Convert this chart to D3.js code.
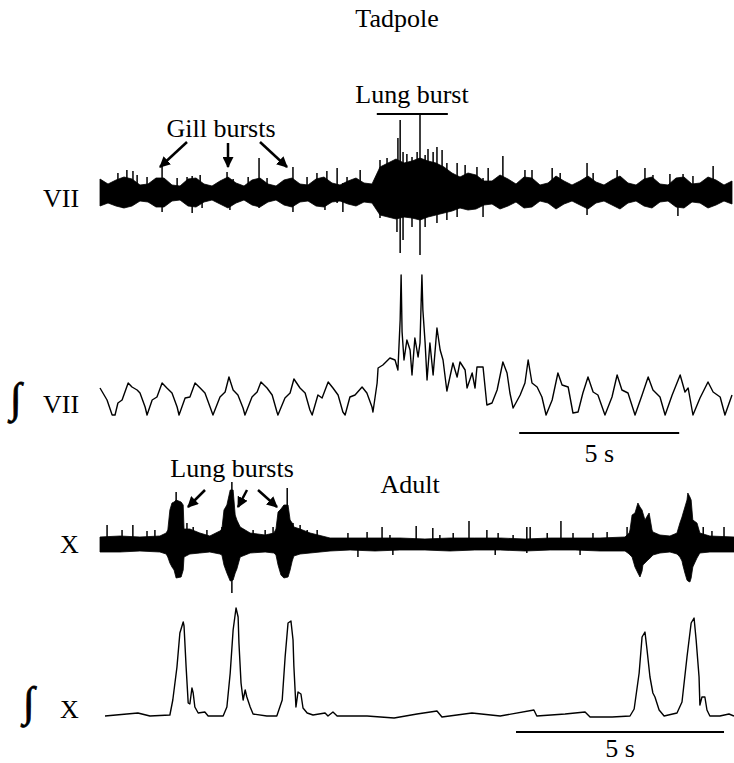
<!DOCTYPE html>
<html>
<head>
<meta charset="utf-8">
<script src="https://cdn.jsdelivr.net/npm/d3@7/dist/d3.min.js"></script>
<style>
  body { margin: 0; background: #fff; }
</style>
</head>
<body>
<div id="chart"></div>
<script>
// ---- Tadpole, raw VII nerve: envelope sampled every 0.25 s (amplitude above / below baseline)
const viiStep = 0.25;
const viiUp = [14,9,13,16,14,8,9,15,15,8, 7,14,15,9,7,12,16,10,7,13,
  15,9,7,13,15,9,8,14,16,10, 8,12,15,10,9,26,30,34,30,32,
  35,32,30,26,20,16,20,18,12,12, 18,14,9,16,15,8,10,17,12,8,
  12,17,11,8,13,17,10,8,14,16, 9,8,15,16,9,10,16,13,8,12];
const viiDown = [13,10,13,15,13,8,9,14,14,8, 7,13,14,9,7,11,15,10,7,12,
  14,9,7,12,14,9,8,13,14,9, 8,11,13,9,10,22,24,26,24,25,
  27,24,22,20,18,15,17,16,12,11, 16,13,9,15,14,8,10,16,11,8,
  12,16,10,8,12,16,10,8,13,15, 9,8,14,15,9,10,15,12,8,11];
// single spikes standing out of the VII band
const viiSpikeT = [0.09,0.56,0.72,0.84,1.03,1.16,1.47,1.94,2.41,2.72,2.88,3.13,3.19,3.97,4.06,4.16,4.63,4.97,5.22,6.03,
  6.47,6.78,7.03,7.09,7.41,7.59,7.72,8.13,8.75,8.97,9.28,9.31,9.38,9.47,9.59,9.75,9.91,10.0,10.16,10.25,
  10.41,10.53,10.69,10.84,11.16,11.41,11.78,11.97,12.13,12.59,13.28,13.5,14.13,14.38,15.22,15.41,16.16,17.03,17.28,17.81,
  18.06,18.22,18.53,19.16];
const viiSpikeUp = [10,20,0,23,22,18,16,27,15,16,17,18,0,21,0,14,16,35,15,26,
  16,20,0,22,25,10,16,23,33,35,30,55,73,41,39,36,41,78,38,44,
  41,46,43,30,30,28,26,15,25,37,23,23,25,20,30,20,23,25,18,19,
  14,19,17,27];
const viiSpikeDown = [0,0,15,12,0,0,0,19,0,0,20,0,15,10,17,0,0,15,0,19,
  0,0,17,0,10,19,0,10,25,20,39,0,60,47,20,34,20,62,34,20,
  20,30,20,27,24,15,15,24,10,12,10,12,10,0,22,0,12,0,0,0,
  23,0,0,10];

// ---- Tadpole, integrated VII
const ivT = [0,0.22,0.38,0.47,0.56,0.69,0.88,1.0,1.16,1.25,1.41,1.47,1.63,1.78,1.94,2.09,2.25,2.41,2.47,2.66,
  2.81,2.97,3.13,3.28,3.44,3.53,3.75,3.91,4.03,4.16,4.31,4.47,4.53,4.75,4.91,5.03,5.22,5.38,5.53,5.56,
  5.78,5.94,6.06,6.25,6.41,6.56,6.63,6.81,6.94,7.13,7.28,7.44,7.59,7.66,7.81,7.97,8.19,8.34,8.5,8.53,
  8.66,8.69,8.84,9.06,9.22,9.31,9.38,9.41,9.44,9.5,9.59,9.69,9.75,9.84,9.94,10.0,10.06,10.09,10.16,10.22,
  10.31,10.41,10.53,10.63,10.72,10.84,11.03,11.16,11.25,11.41,11.47,11.63,11.72,11.78,11.97,12.09,12.25,12.41,12.59,12.72,
  12.81,12.91,13.13,13.28,13.38,13.5,13.66,13.81,13.94,14.13,14.31,14.44,14.63,14.78,14.94,15.09,15.25,15.41,15.56,15.78,
  16.0,16.16,16.31,16.5,16.72,16.94,17.13,17.28,17.5,17.66,17.88,18.13,18.28,18.38,18.53,18.75,19.0,19.16,19.38,19.53,19.75];
const ivV = [30,18,3,3,15,18,35,31,28,25,11,3,18,21,35,30,25,11,3,20,
  21,35,30,25,11,3,21,26,41,28,23,10,3,21,26,36,30,23,6,3,
  20,25,39,30,25,8,3,23,20,36,30,23,6,3,21,23,31,25,11,6,
  35,50,53,60,58,48,98,143,86,58,78,68,43,80,61,75,143,108,75,38,
  75,43,90,68,58,27,55,41,56,48,30,45,30,51,51,13,15,28,56,45,
  25,10,23,35,58,35,31,21,3,18,45,33,31,5,6,25,41,26,23,3,
  21,43,28,25,3,23,41,28,21,3,23,43,26,30,3,20,36,26,21,3,23];

// ---- Adult, raw X nerve envelope
const xT = [0,0.48,0.96,1.44,1.59,1.63,1.68,1.73,1.78,1.83, 1.95,2.0,2.02,2.16,2.40,2.64,2.88,2.93,2.98,3.05,
  3.13,3.20,3.25,3.29,3.37,3.61,3.97,4.18,4.23,4.28, 4.35,4.42,4.52,4.57,4.62,4.66,4.81,5.05,5.53,6.01,
  6.61,7.21,7.81,8.41,9.01,9.62,10.22,10.82,11.42,12.02, 12.62,12.72,12.74,12.79,12.86,12.93,12.98,13.03,13.05,13.10,
  13.17,13.20,13.27,13.29,13.46,13.70,13.87,13.89,13.94,13.99, 14.01,14.06,14.11,14.13,14.18,14.21,14.25,14.35,14.42,14.66,15.24];
const xUp = [8,9,8,9,12,15,35,42,43,45, 43,40,16,16,12,9,14,16,35,40,
  55,55,30,25,18,12,10,12,16,33, 36,40,40,25,22,18,16,12,7,7,
  7,7,6,7,7,7,6,7,7,7, 8,12,15,30,32,42,38,35,32,25,
  30,32,15,13,10,9,12,15,22,28, 31,38,45,52,48,45,25,22,12,9,8];
const xDown = [7,7,6,7,9,12,18,22,25,33, 32,25,12,9,8,7,9,10,20,28,
  36,35,28,24,12,8,7,8,10,20, 30,33,32,25,16,11,9,8,6,5,
  6,5,5,6,5,5,6,5,5,6, 6,9,10,12,22,28,32,26,20,18,
  15,14,11,10,8,7,9,10,12,16, 20,28,35,36,37,33,22,13,8,7,7];
const xSpikeT = [0.17,0.53,0.79,1.13,1.32,1.83,2.09,2.24,2.57,2.93,3.17,3.44,3.68,3.97,4.16,4.50,4.64,4.81,4.98,5.22,
  5.96,6.20,6.42,6.78,6.97,7.04,7.60,8.00,8.17,8.49,8.87,9.30,9.50,9.57,9.93,10.26,10.34,10.75,11.08,11.37,
  11.54,11.85,12.19,12.67,14.50,14.71,15.0];
const xSpikeUp = [20,15,20,14,15,53,22,18,15,18,63,16,15,15,18,57,22,20,15,15,
  12,0,13,18,10,0,19,17,10,12,24,15,0,12,10,18,18,12,24,12,
  0,12,13,18,18,14,18];
const xSpikeDown = [0,0,0,0,0,0,10,0,0,0,48,0,0,0,0,0,0,0,0,0,
  0,12,0,0,0,10,0,0,0,0,0,0,10,0,0,8,0,0,0,0,
  10,0,0,0,0,0,0];

// ---- Adult, integrated X
const ixT = [0.12,0.91,1.20,1.68,1.75,1.85,1.92,2.00,2.02,2.07,2.12,2.16,2.21,2.24,2.28,2.36,2.52,2.60,2.96,3.05,
  3.13,3.20,3.27,3.32,3.34,3.39,3.44,3.49,3.53,3.61,3.68,4.01,4.25,4.38,4.45,4.52,4.59,4.64,4.66,4.71,
  4.76,4.83,4.88,4.98,5.12,5.41,5.48,5.60,5.70,6.42,7.07,7.62,8.10,8.22,8.94,9.62,10.43,10.50,11.18,11.66,
  11.78,12.31,12.74,12.84,12.96,13.03,13.10,13.15,13.22,13.29,13.34,13.44,13.56,13.87,13.99,14.11,14.21,14.28,14.33,14.40,
  14.42,14.47,14.54,14.59,14.66,14.90,15.12,15.24];
const ixV = [0,3,0,1,16,49,83,94,90,49,13,12,28,23,9,3,4,0,0,9,
  43,86,108,99,73,33,16,26,19,9,2,0,0,16,59,93,95,76,50,9,
  24,22,8,3,1,3,0,4,0,0,-2,2,5,-1,3,0,6,0,2,4,
  -1,-1,0,7,43,79,84,66,39,23,19,6,0,3,14,59,93,98,76,39,
  11,19,19,6,0,0,2,0];

const scaleBarSec = 5;
const serif = "'Liberation Serif', 'Times New Roman', Times, 'DejaVu Serif', serif";

const svg = d3.select("#chart").append("svg")
  .attr("width", 734).attr("height", 763)
  .attr("font-family", serif);

// arrowhead
svg.append("defs").append("marker")
  .attr("id", "head")
  .attr("markerUnits", "userSpaceOnUse")
  .attr("viewBox", "0 -5 10 10")
  .attr("refX", 9).attr("refY", 0)
  .attr("markerWidth", 11).attr("markerHeight", 11)
  .attr("orient", "auto")
  .append("path").attr("d", "M0,-5L10,0L0,5Z").attr("fill", "#000");

// scales
const xTad = d3.scaleLinear().domain([0, 19.8]).range([100, 733.6]);
const xAd = d3.scaleLinear().domain([0, 15.24]).range([100, 734]);
const yVII = d3.scaleLinear().domain([-80, 80]).range([273, 113]);
const yIntVII = d3.scaleLinear().domain([0, 150]).range([418, 268]);
const yX = d3.scaleLinear().domain([-70, 70]).range([615, 475]);
const yIntX = d3.scaleLinear().domain([0, 110]).range([716, 606]);

function rawTrace(pts, x, y, spikes) {
  const area = d3.area()
    .x(d => x(d.t)).y0(d => y(-d.dn)).y1(d => y(d.up));
  svg.append("path").datum(pts).attr("d", area).attr("fill", "#000")
    .attr("stroke", "#000").attr("stroke-width", 0.8);
  svg.append("g").selectAll("line").data(spikes).join("line")
    .attr("x1", d => x(d.t)).attr("x2", d => x(d.t))
    .attr("y1", d => y(d.up)).attr("y2", d => y(-d.dn))
    .attr("stroke", "#000").attr("stroke-width", 1.5);
}

function intTrace(pts, x, y) {
  const line = d3.line().x(d => x(d.t)).y(d => y(d.v));
  svg.append("path").datum(pts).attr("d", line)
    .attr("fill", "none").attr("stroke", "#000").attr("stroke-width", 1.4)
    .attr("stroke-linejoin", "round");
}

function scaleBar(x, t0, y, ty) {
  svg.append("line")
    .attr("x1", x(t0)).attr("x2", x(t0 + scaleBarSec))
    .attr("y1", y).attr("y2", y)
    .attr("stroke", "#000").attr("stroke-width", 2);
  svg.append("text").attr("x", x(t0 + scaleBarSec / 2)).attr("y", ty)
    .attr("text-anchor", "middle").attr("font-size", 26).text(scaleBarSec + " s");
}

function label(txt, x, y, anchor) {
  svg.append("text").attr("x", x).attr("y", y)
    .attr("text-anchor", anchor || "middle").attr("font-size", 26).text(txt);
}

function arrow(x1, y1, x2, y2) {
  svg.append("line").attr("x1", x1).attr("y1", y1).attr("x2", x2).attr("y2", y2)
    .attr("stroke", "#000").attr("stroke-width", 2.5).attr("marker-end", "url(#head)");
}

function integral(x, y, size) {
  svg.append("text").attr("x", x).attr("y", y)
    .attr("font-size", size).attr("stroke", "#000").attr("stroke-width", 0.8)
    .text("\u222B");
}

// ---------- tadpole
label("Tadpole", 397, 27);
label("Lung burst", 412, 103);
svg.append("line").attr("x1", xTad(8.65)).attr("x2", xTad(10.87))
  .attr("y1", 114).attr("y2", 114).attr("stroke", "#000").attr("stroke-width", 2);
label("Gill bursts", 221, 137);
arrow(187, 142, 160, 167);
arrow(228, 143, 228, 167);
arrow(260, 142, 287, 167);

label("VII", 43, 207, "start");
rawTrace(viiUp.map((u, i) => ({ t: i * viiStep, up: u, dn: viiDown[i] })), xTad, yVII,
  viiSpikeT.map((t, i) => ({ t, up: viiSpikeUp[i], dn: viiSpikeDown[i] })));

integral(10, 412, 42);
label("VII", 43, 413, "start");
intTrace(ivT.map((t, i) => ({ t, v: ivV[i] })), xTad, yIntVII);
scaleBar(xTad, 13.1, 433, 462);

// ---------- adult
label("Lung bursts", 232, 477);
arrow(205, 490, 188, 507);
arrow(247, 490, 238, 507);
arrow(258, 490, 277, 507);
label("Adult", 410, 493);

label("X", 60, 553, "start");
rawTrace(xT.map((t, i) => ({ t, up: xUp[i], dn: xDown[i] })), xAd, yX,
  xSpikeT.map((t, i) => ({ t, up: xSpikeUp[i], dn: xSpikeDown[i] })));

integral(23, 716, 42);
label("X", 60, 718, "start");
intTrace(ixT.map((t, i) => ({ t, v: ixV[i] })), xAd, yIntX);
scaleBar(xAd, 10.0, 732, 757);
</script>
</body>
</html>
